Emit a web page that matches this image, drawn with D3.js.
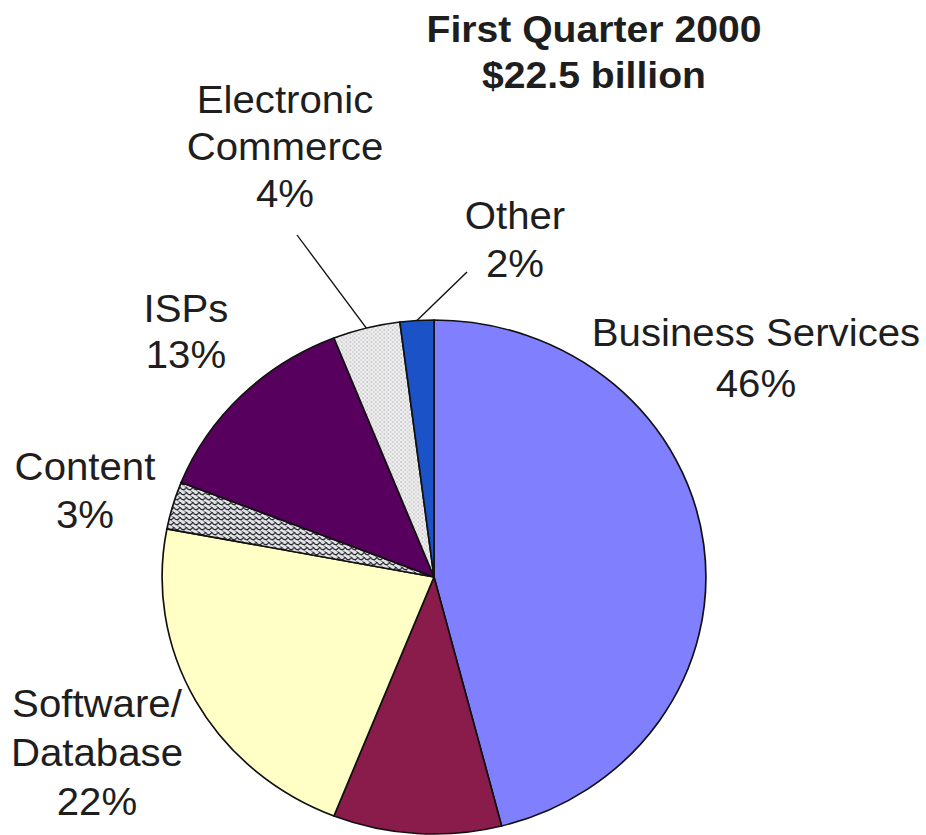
<!DOCTYPE html>
<html>
<head>
<meta charset="utf-8">
<script src="https://cdn.jsdelivr.net/npm/d3@7"></script>
<style>
  html, body { margin: 0; padding: 0; background: #fff; }
  svg { display: block; }
  text { font-family: "Liberation Sans", Arial, sans-serif; fill: #1e1e1e; }
</style>
</head>
<body>
<svg id="chart" width="926" height="835"></svg>
<script>
// Internet venture funding by sector, first quarter 2000
const titleLines = ["First Quarter 2000", "$22.5 billion"];
const categories = ["Business Services", "", "Software/Database", "Content", "ISPs", "Electronic Commerce", "Other"];
const labelNames = [["Business Services"], null, ["Software/", "Database"], ["Content"], ["ISPs"], ["Electronic", "Commerce"], ["Other"]];
const values = [46, 10, 22, 3, 13, 4, 2];
const fills = ["#8080ff", "#8a1c4c", "#ffffc6", "url(#wave)", "#58005e", "url(#dots)", "#1c52c8"];

// Layout (pixels): horizontal stretch, pie centre and radius, label anchors
const sx = 1.058;
const cx = 434, cy = 577, r = 257;
const labelAnchors = [
  { x: 756, y: 346, gap: 51 },
  null,
  { x: 97, y: 717, gap: 49 },
  { x: 85, y: 480, gap: 48 },
  { x: 186, y: 322, gap: 46 },
  { x: 285, y: 113, gap: 47 },
  { x: 515, y: 229, gap: 48 }
];
// Leader line start points (label side) for the narrow slices
const leaders = { 5: { x: 297, y: 235 }, 6: { x: 467, y: 272 } };

const svg = d3.select("#chart");
const defs = svg.append("defs");

// Scalloped lattice fill
const wave = defs.append("pattern").attr("id", "wave")
  .attr("patternUnits", "userSpaceOnUse").attr("width", 6).attr("height", 5);
wave.append("rect").attr("width", 6).attr("height", 5).attr("fill", "#e4e4ec");
wave.append("path").attr("d", "M0,0 Q1.5,3 3,2.5 Q4.5,3 6,0 M0,5 L0,5")
  .attr("fill", "none").attr("stroke", "#262626").attr("stroke-width", 1.1);
wave.append("path").attr("d", "M-3,2.5 Q-1.5,5.5 0,5 M3,2.5 Q4.5,5.5 6,5")
  .attr("fill", "none").attr("stroke", "#262626").attr("stroke-width", 0.6);

// Fine dotted fill
const dots = defs.append("pattern").attr("id", "dots")
  .attr("patternUnits", "userSpaceOnUse").attr("width", 4).attr("height", 4);
dots.append("rect").attr("width", 4).attr("height", 4).attr("fill", "#f0f0f0");
dots.append("circle").attr("cx", 1).attr("cy", 1).attr("r", 0.9).attr("fill", "#c4c4c8");
dots.append("circle").attr("cx", 3).attr("cy", 3).attr("r", 0.9).attr("fill", "#d0d0d4");

const g = svg.append("g").attr("transform", `scale(${sx},1)`);

const pie = d3.pie().sort(null).value(d => d.value);
const arcs = pie(values.map((v, i) => ({ value: v, i })));
const arc = d3.arc().innerRadius(0).outerRadius(r);

const pieG = g.append("g").attr("transform", `translate(${cx / sx},${cy})`);
pieG.selectAll("path.slice").data(arcs).join("path")
  .attr("class", "slice")
  .attr("d", arc)
  .attr("fill", d => fills[d.data.i])
  .attr("stroke", "#111")
  .attr("stroke-width", 1.6)
  .attr("stroke-linejoin", "round");

// Leader lines to slice edges
Object.entries(leaders).forEach(([k, p]) => {
  const a = arcs[+k];
  const mid = (a.startAngle + a.endAngle) / 2;
  const ex = cx + r * sx * Math.sin(mid);
  const ey = cy - r * Math.cos(mid);
  g.append("line")
    .attr("x1", p.x / sx).attr("y1", p.y)
    .attr("x2", ex / sx).attr("y2", ey)
    .attr("stroke", "#111").attr("stroke-width", 1.3);
});

// Slice labels
labelNames.forEach((names, i) => {
  if (!names) return;
  const pos = labelAnchors[i];
  const lines = names.concat([values[i] + "%"]);
  const t = g.append("text")
    .attr("text-anchor", "middle")
    .attr("font-size", 38);
  lines.forEach((s, j) => {
    t.append("tspan").attr("x", pos.x / sx).attr("y", pos.y + j * pos.gap).text(s);
  });
});

// Title
const title = g.append("text").attr("text-anchor", "middle")
  .attr("font-size", 37).attr("font-weight", "bold");
titleLines.forEach((s, j) => {
  title.append("tspan").attr("x", 594 / sx).attr("y", 42 + j * 46).text(s);
});
</script>
</body>
</html>
